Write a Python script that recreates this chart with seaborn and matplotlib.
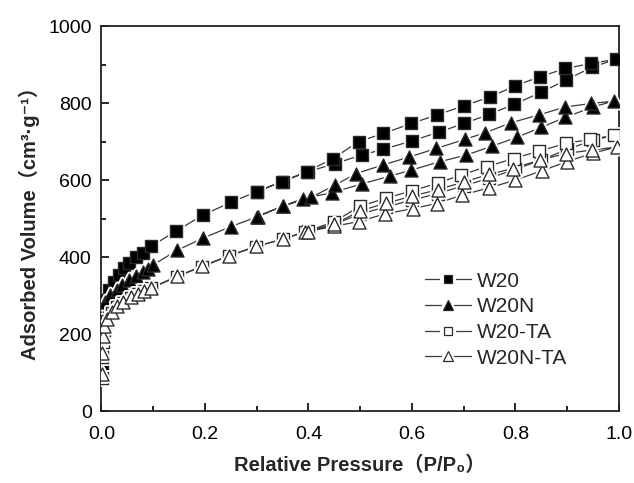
import matplotlib
matplotlib.use('Agg')
import matplotlib.pyplot as plt
import seaborn as sns
from matplotlib.lines import Line2D
from matplotlib.legend_handler import HandlerTuple
from matplotlib.ticker import MultipleLocator

# isotherm data (adsorption branch then desorption branch)
w20_x = [0.001, 0.002, 0.003, 0.005, 0.015, 0.025, 0.034, 0.044, 0.054, 0.067, 0.08, 0.096,
         0.145, 0.196, 0.25, 0.3, 0.35, 0.4, 0.452, 0.503, 0.545, 0.601, 0.653, 0.701, 0.75,
         0.798, 0.85, 0.898, 0.948, 0.995,
         0.947, 0.897, 0.847, 0.8, 0.751, 0.701, 0.648, 0.599, 0.545, 0.497, 0.448, 0.397,
         0.349, 0.3]
w20_y = [105, 170, 230, 288, 314, 336, 353, 371, 384, 399, 411, 428,
         468, 509, 542, 570, 596, 622, 643, 665, 680, 702, 725, 747, 771,
         797, 828, 860, 893, 914,
         903, 890, 868, 845, 816, 793, 769, 747, 721, 700, 656, 622,
         596, 570]

w20n_x = [0.001, 0.002, 0.004, 0.007, 0.017, 0.03, 0.04, 0.054, 0.067, 0.08, 0.09, 0.099,
          0.147, 0.196, 0.25, 0.302, 0.35, 0.39, 0.445, 0.503, 0.557, 0.599, 0.655, 0.705,
          0.755, 0.803, 0.85, 0.897, 0.95, 0.99,
          0.947, 0.897, 0.845, 0.792, 0.742, 0.703, 0.647, 0.595, 0.544, 0.492, 0.452,
          0.405, 0.35, 0.3]
w20n_y = [95, 150, 220, 283, 301, 314, 327, 340, 350, 361, 370, 379,
          418, 449, 479, 505, 532, 552, 567, 590, 610, 626, 648, 665,
          688, 711, 737, 763, 790, 805,
          799, 790, 769, 749, 723, 706, 682, 660, 639, 617, 587,
          555, 532, 505]

w20ta_x = [0.001, 0.002, 0.003, 0.005, 0.01, 0.02, 0.03, 0.042, 0.057, 0.07, 0.083, 0.096,
           0.146, 0.194, 0.247, 0.299, 0.35, 0.394, 0.45, 0.5, 0.55, 0.6, 0.65, 0.7, 0.75,
           0.8, 0.85, 0.9, 0.95, 0.99,
           0.945, 0.898, 0.845, 0.797, 0.745, 0.695, 0.65, 0.6, 0.55, 0.5, 0.45, 0.4]
w20ta_y = [85, 140, 180, 210, 235, 255, 270, 281, 294, 303, 312, 319,
           349, 375, 403, 427, 447, 466, 485, 512, 530, 548, 565, 585, 605,
           628, 652, 680, 703, 716,
           706, 695, 675, 656, 635, 613, 592, 572, 553, 532, 492, 468]

w20nta_x = [0.001, 0.002, 0.003, 0.005, 0.01, 0.02, 0.03, 0.042, 0.057, 0.07, 0.083, 0.096,
            0.146, 0.194, 0.247, 0.299, 0.35, 0.394, 0.45, 0.497, 0.548, 0.602, 0.648, 0.697,
            0.75, 0.8, 0.851, 0.9, 0.95, 0.997,
            0.948, 0.898, 0.847, 0.795, 0.75, 0.7, 0.65, 0.6, 0.55, 0.5, 0.45, 0.4]
w20nta_y = [95, 150, 195, 220, 240, 258, 272, 283, 296, 305, 313, 320,
            350, 376, 404, 428, 446, 465, 480, 492, 512, 526, 539, 561,
            580, 600, 624, 648, 670, 686,
            678, 669, 652, 630, 615, 595, 575, 558, 540, 520, 485, 466]

series = [
    ('W20', w20_x, w20_y, 's', 'black'),
    ('W20N', w20n_x, w20n_y, '^', 'black'),
    ('W20-TA', w20ta_x, w20ta_y, 's', 'white'),
    ('W20N-TA', w20nta_x, w20nta_y, '^', 'white'),
]

sns.set_style('ticks')
fams = ['Liberation Sans', 'Noto Sans CJK SC', 'DejaVu Sans']
plt.rcParams['font.family'] = fams

fig = plt.figure(figsize=(6.34, 4.83), dpi=100)
ax = fig.add_axes([0.160, 0.149, 0.816, 0.797])

line_col = '#3a3a3a'
edge_col = '#2a2a2a'
msize = {'s': 64, '^': 88}
leg_ms = {'s': 6.0, '^': 7.0}

for name, xs, ys, mk, fc in series:
    sns.lineplot(x=xs, y=ys, sort=False, estimator=None, color=line_col,
                 linewidth=0.9, ax=ax, zorder=1)

handles = []
for i, (name, xs, ys, mk, fc) in enumerate(series):
    # white halo so the connecting line stops short of each marker
    sns.scatterplot(x=xs, y=ys, marker=mk, s=msize[mk], color='white',
                    edgecolor='white', linewidth=3.5, ax=ax, zorder=2 + 2 * i)
    sns.scatterplot(x=xs, y=ys, marker=mk, s=msize[mk], color=fc,
                    edgecolor=edge_col, linewidth=1.0, ax=ax, zorder=3 + 2 * i)
    ms = leg_ms[mk]
    h = (Line2D([], [], color=line_col, linewidth=0.9),
         Line2D([], [], marker=mk, markersize=ms + 3, color='white', linestyle='none',
                markeredgecolor='white', markeredgewidth=3),
         Line2D([], [], marker=mk, markersize=ms, markerfacecolor=fc, linestyle='none',
                markeredgecolor=edge_col, markeredgewidth=0.9))
    handles.append(h)

ax.set_xlim(0, 1.0)
ax.set_ylim(0, 1000)
ax.xaxis.set_major_locator(MultipleLocator(0.2))
ax.xaxis.set_minor_locator(MultipleLocator(0.1))
ax.yaxis.set_major_locator(MultipleLocator(200))
ax.yaxis.set_minor_locator(MultipleLocator(100))
ax.set_xticks([0, 0.2, 0.4, 0.6, 0.8, 1.0])
ax.set_xticklabels(['0.0', '0.2', '0.4', '0.6', '0.8', '1.0'])
ax.tick_params(which='both', direction='in', top=False, right=False, labelsize=14,
               width=1.2, colors='black')
ax.tick_params(which='major', length=6)
ax.tick_params(axis='x', which='major', pad=11)
ax.tick_params(axis='y', which='major', pad=7)
ax.tick_params(which='minor', length=3.5)
for sp in ax.spines.values():
    sp.set_linewidth(1.3)
    sp.set_color('#222222')

ax.set_xlabel('Relative Pressure（P/P₀）', fontsize=14.5, fontweight='bold', labelpad=9,
              family=fams)
ax.set_ylabel('Adsorbed Volume（cm³·g⁻¹）', fontsize=14.5, fontweight='bold', labelpad=6,
              family=fams)

ax.legend(handles, [s[0] for s in series], handler_map={tuple: HandlerTuple(ndivide=1)},
          loc='upper left', bbox_to_anchor=(0.625, 0.362), frameon=False, fontsize=15,
          handlelength=2.2, handletextpad=0.3, labelspacing=0.32, borderpad=0,
          borderaxespad=0, numpoints=1)

fig.savefig('out.png', dpi=100)
